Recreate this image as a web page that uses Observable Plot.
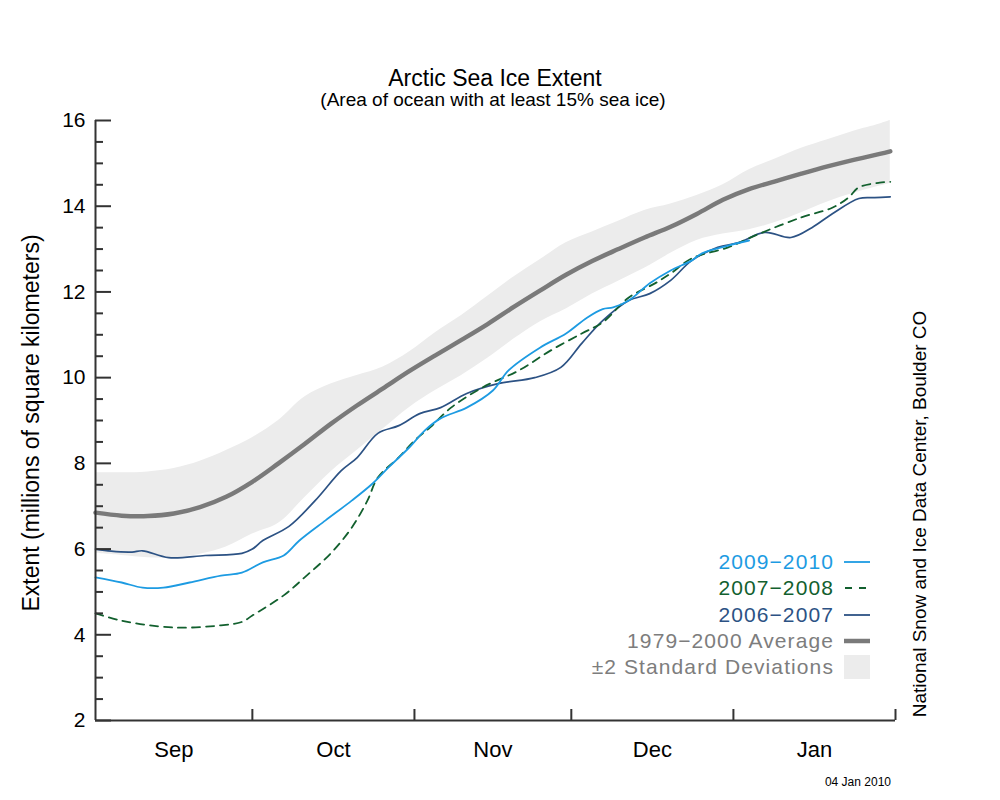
<!DOCTYPE html>
<html><head><meta charset="utf-8">
<script src="https://cdn.jsdelivr.net/npm/d3@7"></script>
<script src="https://cdn.jsdelivr.net/npm/@observablehq/plot@0.6"></script>
<style>
html,body{margin:0;padding:0;background:#fff;}
#wrap{position:relative;width:1000px;height:800px;overflow:hidden;font-family:"Liberation Sans",Arial,Helvetica,sans-serif;color:#000;}
#wrap > svg{position:absolute;left:0;top:0;}
.abs{position:absolute;white-space:nowrap;line-height:1;}
.row{position:absolute;left:500px;width:370px;height:26px;display:flex;justify-content:flex-end;align-items:center;font-size:21px;letter-spacing:1.1px;}
.row .sw{width:26px;height:24px;margin-left:10px;flex:none;}
</style></head><body><div id="wrap"></div>
<script>
// ---- data ----
const seasonStart = "2009-09-01";
const monthLabels = ["Sep", "Oct", "Nov", "Dec", "Jan"];
const monthStarts = ["2009-09-01", "2009-10-01", "2009-11-01", "2009-12-01", "2010-01-01", "2010-02-01"];
const yMajorTicks = [2, 4, 6, 8, 10, 12, 14, 16];
const yMinorTicks = [2.5, 3, 3.5, 4.5, 5, 5.5, 6.5, 7, 7.5, 8.5, 9, 9.5, 10.5, 11, 11.5, 12.5, 13, 13.5, 14.5, 15, 15.5];

// days since Sep 1
const avgDays = [0,5,10,15,20,25,30,35,40,45,50,55,60,65,70,75,80,85,90,95,100,105,110,115,120,125,130,135,140,145,150,152];
const avgValues = [6.85,6.78,6.77,6.83,6.98,7.22,7.57,8.0,8.45,8.92,9.35,9.75,10.15,10.52,10.88,11.25,11.65,12.03,12.4,12.72,13.0,13.27,13.52,13.82,14.15,14.4,14.58,14.76,14.93,15.08,15.22,15.28];
const sdUpper = [7.78,7.78,7.8,7.88,8.05,8.3,8.6,9.0,9.55,9.85,10.05,10.25,10.6,11.05,11.45,11.9,12.35,12.75,13.15,13.4,13.65,13.9,14.05,14.25,14.5,14.85,15.1,15.35,15.55,15.75,15.92,16.0];
const sdLower = [5.9,5.85,5.8,5.8,5.88,6.05,6.35,6.6,7.2,7.8,8.3,8.8,9.3,9.7,10.05,10.45,10.9,11.3,11.6,11.95,12.25,12.55,12.9,13.2,13.35,13.45,13.62,13.85,14.1,14.3,14.47,14.53];

const days0910 = [0,5,9,13,18,24,28,32,36,39,44,49,53,56,60,63,66,71,76,79,85,90,94,97,99,102,106,110,114,116,121,125];
const vals0910 = [5.34,5.22,5.1,5.1,5.22,5.38,5.45,5.69,5.85,6.2,6.67,7.13,7.53,7.9,8.37,8.77,9.05,9.3,9.7,10.17,10.7,11.03,11.4,11.6,11.64,11.8,12.2,12.5,12.73,12.9,13.08,13.2];

const days0708 = [0,5,15,24,28,30,36,40,45,49,52,54,58,61,64,68,74,81,87,93,97,102,107,110,114,121,127,135,141,144,146,150,152];
const vals0708 = [4.5,4.33,4.17,4.22,4.3,4.45,4.92,5.34,5.9,6.5,7.13,7.67,8.14,8.53,8.84,9.3,9.77,10.17,10.63,11.03,11.29,11.87,12.2,12.43,12.78,13.04,13.36,13.74,13.97,14.2,14.44,14.55,14.57];

const days0607 = [0,3,7,9,14,21,28,30,32,37,42,47,50,54,58,62,66,71,77,84,89,93,97,102,106,110,114,119,123,128,133,137,141,146,149,152];
const vals0607 = [6.0,5.95,5.93,5.96,5.8,5.85,5.9,6.0,6.2,6.53,7.13,7.83,8.13,8.7,8.88,9.16,9.3,9.63,9.86,10.0,10.24,10.8,11.33,11.8,11.96,12.27,12.73,13.04,13.15,13.39,13.27,13.5,13.83,14.18,14.2,14.22];

const legendItems = [
  {label: "2009\u22122010", color: "#1d9be2", kind: "line"},
  {label: "2007\u22122008", color: "#12602e", kind: "dash"},
  {label: "2006\u22122007", color: "#2c5284", kind: "line"},
  {label: "1979\u22122000 Average", color: "#7d7d7d", kind: "avg"},
  {label: "\u00b12 Standard Deviations", color: "#7d7d7d", kind: "band"}
];

// ---- build ----
const parse = d3.utcParse("%Y-%m-%d");
const t0 = parse(seasonStart);
const toDate = d => d3.utcDay.offset(t0, d);
const series = (days, vals) => days.map((d, i) => ({date: toDate(d), value: vals[i]}));
const avg = series(avgDays, avgValues);
const band = avgDays.map((d, i) => ({date: toDate(d), lo: sdLower[i], hi: sdUpper[i]}));
const s0910 = series(days0910, vals0910);
const s0708 = series(days0708, vals0708);
const s0607 = series(days0607, vals0607);
const starts = monthStarts.map(parse);
const mids = starts.slice(0, -1).map((s, i) => new Date((+s + +starts[i + 1]) / 2));

const W = 1000, H = 800, mL = 95, mR = 105, mT = 120, mB = 80;
const fw = W - mL - mR, fh = H - mT - mB;
const axisColor = "#333";
const curve = "catmull-rom";

const chart = Plot.plot({
  width: W, height: H,
  marginLeft: mL, marginRight: mR, marginTop: mT, marginBottom: mB,
  style: {fontFamily: '"Liberation Sans", Arial, Helvetica, sans-serif', background: "white", color: "#000"},
  x: {type: "utc", domain: [starts[0], starts[starts.length - 1]], axis: null},
  y: {domain: [2, 16], axis: null},
  marks: [
    Plot.areaY(band, {x: "date", y1: "lo", y2: "hi", fill: "#ececec", curve}),
    Plot.lineY(avg, {x: "date", y: "value", stroke: "#7a7a7a", strokeWidth: 4.5, curve}),
    Plot.lineY(s0607, {x: "date", y: "value", stroke: "#2c5284", strokeWidth: 1.7, curve}),
    Plot.lineY(s0708, {x: "date", y: "value", stroke: "#12602e", strokeWidth: 1.8, strokeDasharray: "8,6", curve}),
    Plot.lineY(s0910, {x: "date", y: "value", stroke: "#1d9be2", strokeWidth: 1.8, curve}),
    // axis lines
    Plot.ruleX([starts[0]], {stroke: axisColor, strokeWidth: 2}),
    Plot.ruleY([2], {stroke: axisColor, strokeWidth: 2}),
    // inward ticks
    Plot.ruleY(yMajorTicks, {stroke: axisColor, strokeWidth: 2, insetRight: fw - 16}),
    Plot.ruleY(yMinorTicks, {stroke: axisColor, strokeWidth: 2, insetRight: fw - 8}),
    Plot.ruleX(starts.slice(1), {stroke: axisColor, strokeWidth: 2, insetTop: fh - 11}),
    // tick labels
    Plot.text(yMajorTicks, {y: d => d, text: d => String(d), frameAnchor: "left", textAnchor: "end", dx: -10, fontSize: 21, fill: "#000"}),
    Plot.text(mids, {x: d => d, text: (d, i) => monthLabels[i], frameAnchor: "bottom", dy: 36, fontSize: 22, fill: "#000"})
  ]
});

const wrap = document.getElementById("wrap");
wrap.appendChild(chart);

function addText(txt, css) {
  const el = document.createElement("div");
  el.className = "abs";
  el.textContent = txt;
  Object.assign(el.style, css);
  wrap.appendChild(el);
  return el;
}
addText("Arctic Sea Ice Extent", {left: "495px", top: "67px", transform: "translateX(-50%)", fontSize: "23px"});
addText("(Area of ocean with at least 15% sea ice)", {left: "493px", top: "90px", transform: "translateX(-50%)", fontSize: "19px"});
addText("Extent (millions of square kilometers)", {left: "31px", top: "423px", transform: "translate(-50%,-50%) rotate(-90deg)", fontSize: "23px"});
addText("National Snow and Ice Data Center, Boulder CO", {left: "919px", top: "514px", transform: "translate(-50%,-50%) rotate(-90deg)", fontSize: "19px"});
addText("04 Jan 2010", {right: "109px", top: "776px", fontSize: "12px"});

legendItems.forEach((it, i) => {
  const row = document.createElement("div");
  row.className = "row";
  row.style.top = (549 + i * 26.3) + "px";
  const t = document.createElement("span");
  t.textContent = it.label;
  t.style.color = it.color;
  row.appendChild(t);
  const sw = document.createElementNS("http://www.w3.org/2000/svg", "svg");
  sw.setAttribute("class", "sw");
  sw.setAttribute("width", 26); sw.setAttribute("height", 24);
  let inner = "";
  if (it.kind === "line") inner = `<line x1="0" x2="26" y1="12" y2="12" stroke="${it.color}" stroke-width="1.8"/>`;
  if (it.kind === "dash") inner = `<line x1="1" x2="26" y1="12" y2="12" stroke="${it.color}" stroke-width="1.8" stroke-dasharray="7,7"/>`;
  if (it.kind === "avg") inner = `<line x1="0" x2="26" y1="12" y2="12" stroke="#7a7a7a" stroke-width="4.5"/>`;
  if (it.kind === "band") inner = `<rect x="0" y="0" width="26" height="24" fill="#ececec"/>`;
  sw.innerHTML = inner;
  row.appendChild(sw);
  wrap.appendChild(row);
});
</script></body></html>
